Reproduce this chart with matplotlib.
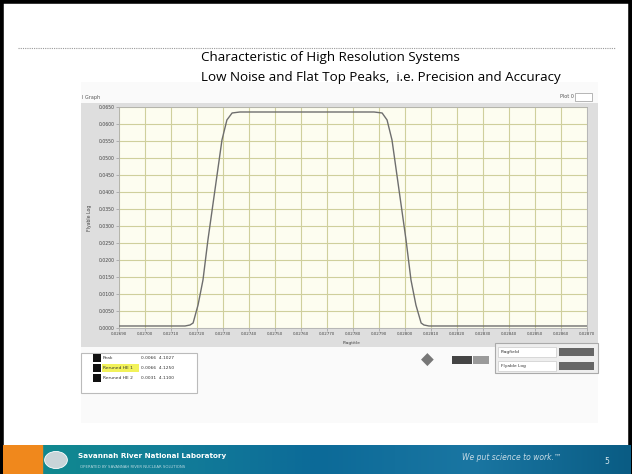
import matplotlib
matplotlib.use("Agg")
import matplotlib.pyplot as plt
from matplotlib.patches import Rectangle
from matplotlib.colors import LinearSegmentedColormap
import numpy as np

# values
x_ticks = [0.02690 + i * 0.0001 for i in range(19)]
y_ticks = [i * 0.005 for i in range(14)]

peak_x = [0.026900, 0.027154, 0.027173, 0.027185, 0.027204, 0.027223, 0.027242,
          0.027269, 0.027296, 0.027315, 0.027335, 0.027365, 0.027881, 0.027912,
          0.027931, 0.027950, 0.027977, 0.028004, 0.028023, 0.028042, 0.028062,
          0.028073, 0.028092, 0.028700]
peak_y = [0.00059, 0.00059, 0.00088, 0.00147, 0.00676, 0.01412, 0.02588,
          0.04059, 0.05529, 0.06118, 0.06324, 0.06353, 0.06353, 0.06324,
          0.06118, 0.05529, 0.04059, 0.02588, 0.01412, 0.00676, 0.00147,
          0.00088, 0.00059, 0.00059]

legend_names = ["Peak", "Reruned HE 1", "Reruned HE 2"]
legend_vals = ["0.0066  4.1027", "0.0066  4.1250", "0.0031  4.1100"]
cursor_names = ["Flagfield", "Flyable Log"]

W, H = 632, 474
fig = plt.figure(figsize=(W / 100, H / 100), dpi=100)
fig.patch.set_facecolor("white")
plt.rcParams['font.family'] = ['DejaVu Sans']


def fx(px):
    return px / W


def fy(py):
    return 1 - py / H


def box(x0, y0, x1, y1, **kw):
    kw.setdefault("zorder", 1)
    fig.patches.append(Rectangle((fx(x0), fy(y1)), fx(x1) - fx(x0), fy(y0) - fy(y1),
                                 transform=fig.transFigure, **kw))


# slide frame and header
box(1, 1, 631, 473, facecolor="none", edgecolor="black", linewidth=4, zorder=0)
fig.add_artist(plt.Line2D([fx(18), fx(615)], [fy(48), fy(48)], transform=fig.transFigure,
                          color="#9a9a9a", linewidth=0.8, linestyle=(0, (1, 1))))
fig.text(fx(201), fy(58), "Characteristic of High Resolution Systems",
         fontsize=9.6, family="Open Sans", va="center", ha="left")
fig.text(fx(201), fy(77), "Low Noise and Flat Top Peaks,  i.e. Precision and Accuracy",
         fontsize=9.6, family="Open Sans", va="center", ha="left")

# LabVIEW style panel
box(81, 82, 598, 423, facecolor="#fafafa", edgecolor="none", zorder=0.5)
box(81, 103, 598, 347, facecolor="#dedede", edgecolor="none")
fig.text(fx(82), fy(97), "I Graph", fontsize=3.5, color="#555555", va="center")
fig.text(fx(560), fy(97), "Plot 0", fontsize=3.5, color="#555555", va="center")
box(575, 93, 592, 101, facecolor="white", edgecolor="#999999", linewidth=0.5, zorder=2)
fig.text(fx(352), fy(343), "Flagtitle", fontsize=3.2, color="#444444", ha="center", va="center")
fig.text(fx(89), fy(218), "Flyable Log", fontsize=3.3, color="#444444", ha="center",
         va="center", rotation=90)

ax = fig.add_axes([fx(119), fy(328), fx(587) - fx(119), fy(107) - fy(328)])
ax.set_zorder(3)
ax.set_facecolor("#fdfdf0")
ax.set_xlim(x_ticks[0], x_ticks[-1])
ax.set_ylim(y_ticks[0], y_ticks[-1])
ax.set_xticks(x_ticks)
ax.set_yticks(y_ticks)
ax.set_xticklabels(["%.5f" % v for v in x_ticks], fontsize=2.9)
ax.set_yticklabels(["%.4f" % v for v in y_ticks], fontsize=3.3)
ax.tick_params(length=2, width=0.4, pad=1.2, colors="#888888", labelcolor="#444444")
ax.grid(True, color="#cfcf9c", linewidth=0.8)
for s in ax.spines.values():
    s.set_color("#b0b0b0")
    s.set_linewidth(0.6)
ax.plot(peak_x, peak_y, color="#6e6e6e", linewidth=1.0, zorder=3)

# legend panel bottom-left
box(81, 353, 197, 393, facecolor="white", edgecolor="#bbbbbb", linewidth=0.8)
for i, (n, v) in enumerate(zip(legend_names, legend_vals)):
    yy = 358 + i * 10
    box(93, yy - 4, 101, yy + 4, facecolor="#111111", edgecolor="none", zorder=2)
    if i == 1:
        box(102, yy - 4, 139, yy + 4, facecolor="#f2f25a", edgecolor="none", zorder=2)
    fig.text(fx(103), fy(yy), n, fontsize=3.2, color="#333333", va="center", zorder=3)
    fig.text(fx(141), fy(yy), v, fontsize=3.2, color="#333333", va="center", zorder=3)

# cursor controls
fig.text(fx(427), fy(360), "\u25c6", fontsize=12, color="#777777", ha="center", va="center")
box(452, 356, 472, 364, facecolor="#444444", edgecolor="none")
box(473, 356, 489, 364, facecolor="#9a9a9a", edgecolor="none")
box(495, 343, 598, 373, facecolor="#eeeeee", edgecolor="#aaaaaa", linewidth=0.8)
for i, n in enumerate(cursor_names):
    yy = 352 + i * 14
    box(498, yy - 5, 556, yy + 5, facecolor="white", edgecolor="#cccccc", linewidth=0.5, zorder=2)
    fig.text(fx(501), fy(yy), n, fontsize=3.2, color="#333333", va="center", zorder=3)
    box(559, yy - 4, 594, yy + 4, facecolor="#666666", edgecolor="none", zorder=2)

# footer band
grad = np.linspace(0, 1, 256).reshape(1, -1)
bax = fig.add_axes([fx(3), 0, fx(631) - fx(3), fy(445)])
bax.set_zorder(1)
cm = LinearSegmentedColormap.from_list("band", ["#0f8c8c", "#137f98", "#0c6a98", "#1a76a2", "#0a5c84"])
bax.imshow(grad, aspect="auto", cmap=cm, extent=[0, 1, 0, 1])
bax.add_patch(Rectangle((0, 0), 39 / 628, 1, color="#f0881c"))
bax.set_xlim(0, 1)
bax.set_ylim(0, 1)
bax.axis("off")
fig.text(fx(78), fy(456), "Savannah River National Laboratory", fontsize=5.2,
         color="white", weight="bold", va="center", zorder=4)
fig.text(fx(80), fy(467), "OPERATED BY SAVANNAH RIVER NUCLEAR SOLUTIONS", fontsize=2.8,
         color="#b8d8e0", va="center", zorder=4)
fig.add_artist(plt.Circle((fx(56), fy(460)), 0.018, transform=fig.transFigure,
                          facecolor="#c8d4d8", edgecolor="white", linewidth=0.6, zorder=4))
fig.text(fx(462), fy(458), "We put science to work.\u2122", fontsize=5.5, color="#c8dce6",
         va="center", style="italic", zorder=4)
fig.text(fx(607), fy(462), "5", fontsize=5.5, color="#d8e8ee", va="center", ha="center",
         zorder=4)

fig.savefig("out.png", dpi=100)
